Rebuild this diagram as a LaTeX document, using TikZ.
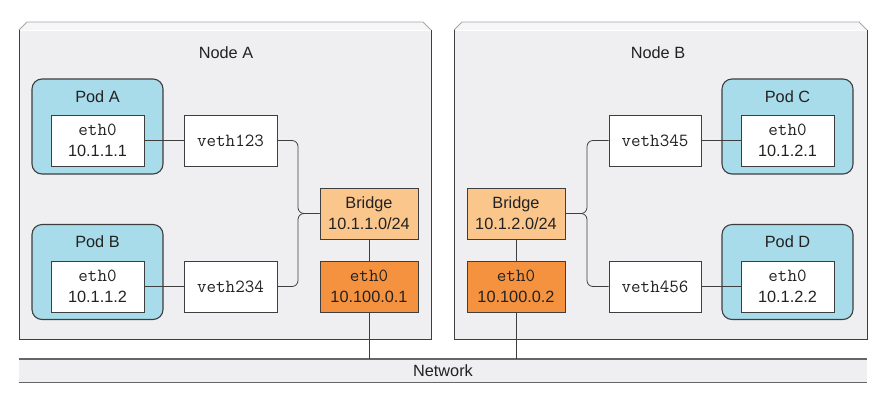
\documentclass[tikz,border=0pt]{standalone}
\usepackage{fontspec}
\setmainfont{Liberation Sans}
\usetikzlibrary{calc}
\definecolor{nodebg}{HTML}{EFEFF1}
\definecolor{topbg}{HTML}{F6F6F8}
\definecolor{podbg}{HTML}{A9DCEB}
\definecolor{bridgebg}{HTML}{FBC68C}
\definecolor{hostbg}{HTML}{F4923F}
\definecolor{edge}{HTML}{3E3E3E}
\definecolor{txt}{HTML}{222222}
\newcommand{\mono}[1]{{\ttfamily\fontsize{18.5}{21}\selectfont #1}}
\tikzset{
  every node/.style={text=txt, font=\fontsize{16.3}{21}\selectfont},
  podbox/.style={draw=edge, line width=1.1pt, fill=podbg, rounded corners=10pt,
    minimum width=131pt, minimum height=95pt, inner sep=0pt},
  ifbox/.style={draw=edge, line width=0.8pt, fill=white, minimum width=93pt,
    minimum height=51pt, inner sep=0pt, align=center},
  bridgebox/.style={ifbox, fill=bridgebg, minimum width=98pt},
  hostbox/.style={ifbox, fill=hostbg, minimum width=98pt},
  conn/.style={draw=edge, line width=0.8pt},
  lbl/.style={inner sep=0pt, anchor=base},
}
\begin{document}
\begin{tikzpicture}[x=1pt,y=-1pt]
\useasboundingbox (0,0) rectangle (877,400);
% ---------- Node boxes ----------
\foreach \l/\r in {19/431, 454/867}{
  \fill[nodebg] (\l,30) rectangle (\r,339);
  \fill[topbg] (\l,30) -- (\l+8,22) -- (\r-8,22) -- (\r,30) -- cycle;
  \draw[draw=gray!70, line width=0.8pt] (\l,30) -- (\l+8,22) -- (\r-8,22) -- (\r,30);
  \draw[draw=white, line width=0.8pt] (\l+0.5,30) -- (\r-0.5,30);
  \draw[draw=edge, line width=1pt] (\l,30) -- (\l,339) -- (\r,339) -- (\r,30);
}
\node[lbl] (labA) at (226,58) {Node A};
\node[lbl] (labB) at (658,58) {Node B};
% ---------- Network ----------
\node[fill=nodebg, minimum width=848pt, minimum height=23pt, inner sep=0pt] (net) at (443,370.5) {};
\draw[draw=gray!80!black, line width=1.4pt] (net.north west) -- (net.north east);
\draw[draw=gray!80!black, line width=1.4pt] (net.south west) -- (net.south east);
\node[lbl] (netlab) at (443,376.5) {Network};
% ---------- Node A ----------
\node[podbox] (podA) at (97.5,126.5) {};
\node[lbl] at (97.5,102) {Pod A};
\node[ifbox] (ethA) at (97.5,140.5) {\mono{eth0}\\10.1.1.1};
\node[ifbox] (veth123) at (230.5,140.5) {\mono{veth123}};
\node[podbox] (podB) at (97.5,272) {};
\node[lbl] at (97.5,247.5) {Pod B};
\node[ifbox] (ethB) at (97.5,286.5) {\mono{eth0}\\10.1.1.2};
\node[ifbox] (veth234) at (230.5,286.5) {\mono{veth234}};
\node[bridgebox] (bridgeA) at (369,213.5) {Bridge\\10.1.1.0/24};
\node[hostbox] (hostA) at (369,286.5) {\mono{eth0}\\10.100.0.1};
\coordinate (jA) at (298,213.5);
\draw[conn] (ethA.east) -- (veth123.west);
\draw[conn] (ethB.east) -- (veth234.west);
\draw[conn, rounded corners=6pt] (veth123.east) -| (jA) -- (bridgeA.west);
\draw[conn, rounded corners=6pt] (veth234.east) -| (jA) -- (bridgeA.west);
\draw[conn] (bridgeA.south) -- (hostA.north);
\draw[conn] (hostA.south) -- (hostA.south |- net.north);
% ---------- Node B ----------
\node[podbox] (podC) at (787.5,126.5) {};
\node[lbl] at (787.5,102) {Pod C};
\node[ifbox] (ethC) at (787.5,140.5) {\mono{eth0}\\10.1.2.1};
\node[ifbox, minimum width=92pt] (veth345) at (655,140.5) {\mono{veth345}};
\node[podbox] (podD) at (787.5,272) {};
\node[lbl] at (787.5,247.5) {Pod D};
\node[ifbox] (ethD) at (787.5,286.5) {\mono{eth0}\\10.1.2.2};
\node[ifbox, minimum width=92pt] (veth456) at (655,286.5) {\mono{veth456}};
\node[bridgebox] (bridgeB) at (516,213.5) {Bridge\\10.1.2.0/24};
\node[hostbox] (hostB) at (516,286.5) {\mono{eth0}\\10.100.0.2};
\coordinate (jB) at (587,213.5);
\draw[conn] (ethC.west) -- (veth345.east);
\draw[conn] (ethD.west) -- (veth456.east);
\draw[conn, rounded corners=6pt] (veth345.west) -| (jB) -- (bridgeB.east);
\draw[conn, rounded corners=6pt] (veth456.west) -| (jB) -- (bridgeB.east);
\draw[conn] (bridgeB.south) -- (hostB.north);
\draw[conn] (hostB.south) -- (hostB.south |- net.north);
\end{tikzpicture}
\end{document}
